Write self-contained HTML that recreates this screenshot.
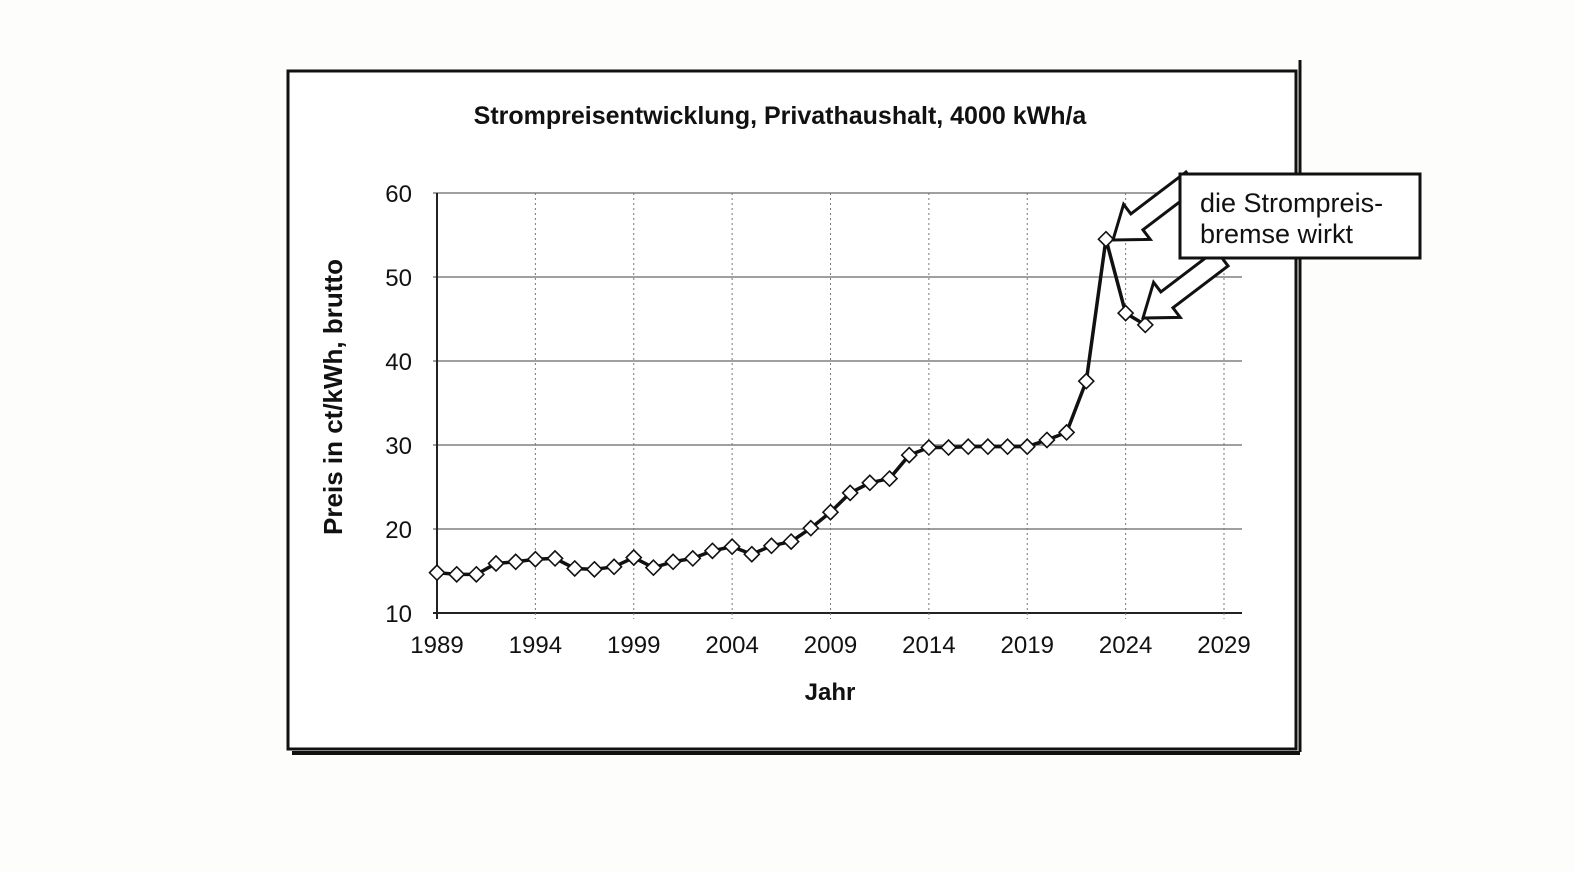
<!DOCTYPE html>
<html><head><meta charset="utf-8">
<style>
html,body{margin:0;padding:0;background:#fff;}
svg{display:block;font-family:"Liberation Sans",Arial,sans-serif;}
</style></head>
<body>
<svg id="chart" width="1575" height="872" viewBox="0 0 1575 872">
  <rect x="0" y="0" width="1575" height="872" fill="#fdfdfc"/>
  <rect x="288" y="71" width="1008" height="678" fill="#fff" stroke="#111" stroke-width="3"/>
  <line x1="1300" y1="60" x2="1300" y2="752" stroke="#111" stroke-width="3"/>
  <line x1="292" y1="753" x2="1300" y2="753" stroke="#111" stroke-width="4"/>
  <text x="780" y="124" text-anchor="middle" font-size="25" font-weight="bold" fill="#111">Strompreisentwicklung, Privathaushalt, 4000 kWh/a</text>
  <g id="grid"></g>
  <g id="axes"></g>
  <g id="series"></g>
  <text transform="translate(342,397) rotate(-90)" text-anchor="middle" font-size="26" font-weight="bold" fill="#111">Preis in ct/kWh, brutto</text>
  <text x="830" y="700" text-anchor="middle" font-size="24" font-weight="bold" fill="#111">Jahr</text>
  <g id="callout">
    <polygon id="arrow1" fill="#fff" stroke="#111" stroke-width="3" stroke-linejoin="miter"/>
    <polygon id="arrow2" fill="#fff" stroke="#111" stroke-width="3" stroke-linejoin="miter"/>
    <rect x="1180" y="174" width="240" height="84" fill="#fff" stroke="#111" stroke-width="3"/>
    <text x="1200" y="212" font-size="27" fill="#111">die Strompreis-</text>
    <text x="1200" y="243" font-size="27" fill="#111">bremse wirkt</text>
  </g>
</svg>
<script>
const years = [1989,1990,1991,1992,1993,1994,1995,1996,1997,1998,1999,2000,2001,2002,2003,2004,2005,2006,2007,2008,2009,2010,2011,2012,2013,2014,2015,2016,2017,2018,2019,2020,2021,2022,2023,2024,2025];
const prices = [14.8,14.6,14.6,15.9,16.1,16.4,16.5,15.3,15.2,15.5,16.6,15.4,16.1,16.5,17.4,17.9,17.0,18.0,18.5,20.1,22.0,24.3,25.5,26.0,28.8,29.7,29.7,29.8,29.8,29.8,29.8,30.6,31.5,37.6,54.5,45.7,44.3];
const xTicks = [1989,1994,1999,2004,2009,2014,2019,2024,2029];
const yTicks = [10,20,30,40,50,60];

const NS = "http://www.w3.org/2000/svg";
const X0=437, X1=1224, XMIN=1989, XMAX=2029;
const Y0=613, Y1=193, YMIN=10, YMAX=60;
const xs = v => X0 + (v-XMIN)/(XMAX-XMIN)*(X1-X0);
const ys = v => Y0 - (v-YMIN)/(YMAX-YMIN)*(Y0-Y1);
function mk(tag, attrs, parent){const e=document.createElementNS(NS,tag);for(const k in attrs)e.setAttribute(k,attrs[k]);parent.appendChild(e);return e;}

const grid=document.getElementById('grid'), axes=document.getElementById('axes'), series=document.getElementById('series');
const PR = 1242;
yTicks.forEach(t=>{
  const l=mk('line',{x1:X0-4,x2:PR,y1:ys(t),y2:ys(t),stroke:t===YMIN?'#222':'#666','stroke-width':t===YMIN?2:1.3},grid);
  
  
  const tx=mk('text',{x:X0-25,y:ys(t)+9,'text-anchor':'end','font-size':24,fill:'#111'},axes);
  tx.textContent=t;
  
  
});
xTicks.forEach(t=>{
  const l=mk('line',{x1:xs(t),x2:xs(t),y1:Y1,y2:Y0+6,stroke:t===XMIN?'#222':'#777','stroke-width':t===XMIN?2:1,'stroke-dasharray':t===XMIN?'none':'2,3'},grid);
  
  
  const tx=mk('text',{x:xs(t),y:Y0+40,'text-anchor':'middle','font-size':24,fill:'#111'},axes);
  tx.textContent=t;
  
  
});
const pts=years.map((y,i)=>xs(y)+','+ys(prices[i])).join(' ');
const line=mk('polyline',{points:pts,fill:'none',stroke:'#111','stroke-width':3.5,'stroke-linejoin':'round'},series);


years.forEach((y,i)=>{
  const cx=xs(y), cy=ys(prices[i]), r=7.5;
  const m=mk('polygon',{points:`${cx},${cy-r} ${cx+r},${cy} ${cx},${cy+r} ${cx-r},${cy}`,fill:'#fff',stroke:'#111','stroke-width':1.6},series);
  
  
});
function arrow(id,sx,sy,ex,ey){
  const dx=ex-sx, dy=ey-sy, L=Math.hypot(dx,dy), ux=dx/L, uy=dy/L, px=-uy, py=ux;
  const w=10, hw=22, hl=30;
  const bx=ex-ux*hl, by=ey-uy*hl;
  const p=[[sx+px*w,sy+py*w],[bx+px*w,by+py*w],[bx+px*hw,by+py*hw],[ex,ey],[bx-px*hw,by-py*hw],[bx-px*w,by-py*w],[sx-px*w,sy-py*w]];
  document.getElementById(id).setAttribute('points',p.map(q=>q.join(',')).join(' '));
}
arrow('arrow1',1192,180,1113,240);
arrow('arrow2',1222,258,1143,318);
</script>
</body></html>
